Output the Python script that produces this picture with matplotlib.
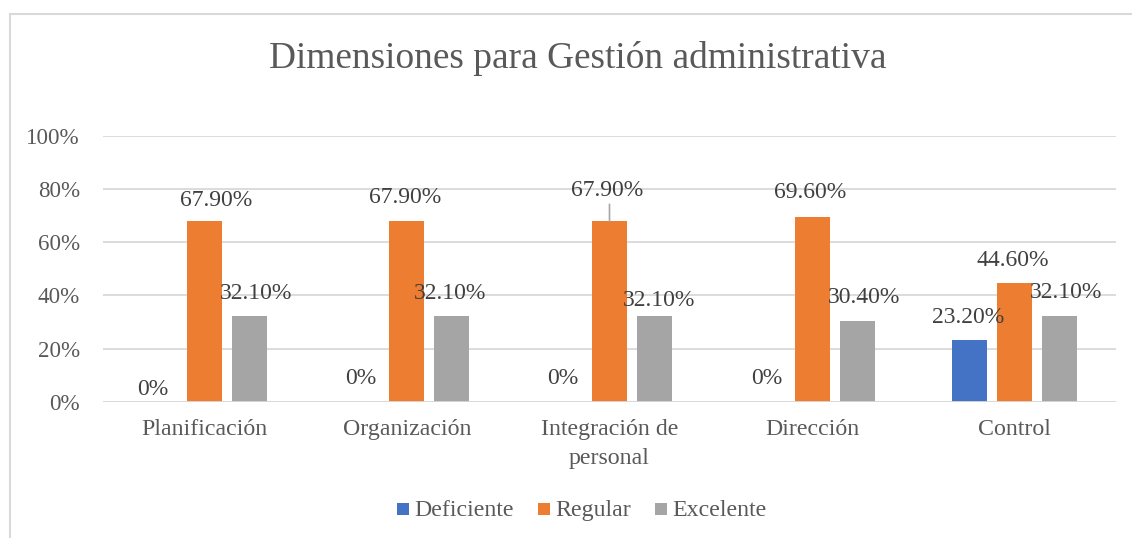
import matplotlib
matplotlib.use("Agg")
import matplotlib.pyplot as plt
from matplotlib.patches import Rectangle
import numpy as np

categories = ["Planificación", "Organización", "Integración de\npersonal", "Dirección", "Control"]
series_names = ["Deficiente", "Regular", "Excelente"]
deficiente = [0.0, 0.0, 0.0, 0.0, 0.232]
regular = [0.679, 0.679, 0.679, 0.696, 0.446]
excelente = [0.321, 0.321, 0.321, 0.304, 0.321]
label_deficiente = ["0%", "0%", "0%", "0%", "23.20%"]
label_regular = ["67.90%", "67.90%", "67.90%", "69.60%", "44.60%"]
label_excelente = ["32.10%", "32.10%", "32.10%", "30.40%", "32.10%"]
yticks = [0, 0.2, 0.4, 0.6, 0.8, 1.0]
ytick_labels = ["0%", "20%", "40%", "60%", "80%", "100%"]
title = "Dimensiones para Gestión administrativa"

colors = ["#4472C4", "#ED7D31", "#A5A5A5"]
text_color = "#595959"
grid_color = "#D9D9D9"
font = "Liberation Serif"

# label offsets in pixels (dx, dy of text center from bar-top center)
offsets = [
    [(-7, 12), (11.5, 21), (6.5, 23)],
    [(-1.5, 23.5), (-1.5, 23.5), (-1.5, 23)],
    [(-1.5, 23.5), (-2.5, 31), (4.5, 16)],
    [(-0.5, 23.5), (-1.5, 24), (6.5, 23)],
    [(-2, 23), (-2, 22.4), (6.5, 23.6)],
]

W, H, DPI = 1132, 538, 100
fig = plt.figure(figsize=(W / DPI, H / DPI), dpi=DPI)
ax = fig.add_axes([103 / W, (H - 401.7) / H, (1116 - 103) / W, (401.7 - 136) / H])

x = np.arange(len(categories))
bw = 35 / 202.6
step = 45 / 202.6
all_series = [deficiente, regular, excelente]
all_labels = [label_deficiente, label_regular, label_excelente]

for s, (vals, labs) in enumerate(zip(all_series, all_labels)):
    xs = x + (s - 1) * step
    ax.bar(xs, vals, width=bw, color=colors[s], label=series_names[s], zorder=3)
    for i in range(len(categories)):
        dx, dy = offsets[i][s]
        ax.annotate(labs[i], xy=(xs[i], vals[i]), xytext=(dx, dy),
                    textcoords="offset pixels", ha="center", va="center",
                    fontsize=17, family=font, color="#404040", zorder=5)

# leader line for Integración Regular label
ax.annotate("", xy=(x[2], regular[2]), xytext=(0, 17), textcoords="offset pixels",
            arrowprops=dict(arrowstyle="-", color="#A6A6A6", lw=1.2, shrinkA=0, shrinkB=0))

ax.set_xlim(-0.5, len(categories) - 0.5)
ax.set_ylim(0, 1.0)
ax.set_yticks(yticks)
ax.set_yticklabels(ytick_labels, family=font, fontsize=16.6, color=text_color)
ax.set_xticks(x)
ax.set_xticklabels(categories, family=font, fontsize=17.2, color=text_color, linespacing=1.5)
ax.tick_params(axis="both", length=0)
ax.tick_params(axis="y", pad=16.5)
ax.tick_params(axis="x", pad=12.5)
ax.grid(axis="y", color=grid_color, lw=1.3, zorder=0)
for sp in ax.spines.values():
    sp.set_visible(False)
ax.axhline(0, color=grid_color, lw=1.3, zorder=4)

fig.text(578 / W, 1 - 58 / H, title, ha="center", va="center", family=font,
         fontsize=26.9, color=text_color)

# legend (manual, baseline-aligned like the original)
legend_marker_x = [397, 538, 655]
for name, col, mx in zip(series_names, colors, legend_marker_x):
    fig.add_artist(Rectangle((mx / W, 1 - 515 / H), 12 / W, 12 / H,
                             transform=fig.transFigure, color=col, lw=0))
    fig.text((mx + 17) / W, 1 - 516 / H, name, ha="left", va="baseline",
             family=font, fontsize=17.2, color=text_color)

# outer chart border (only top and left visible)
fig.add_artist(plt.Line2D([9.5 / W, 9.5 / W], [0, 1 - 14 / H], transform=fig.transFigure,
                          color=grid_color, lw=1.5))
fig.add_artist(plt.Line2D([9.5 / W, 1], [1 - 14 / H, 1 - 14 / H], transform=fig.transFigure,
                          color=grid_color, lw=1.5))

fig.savefig("out.png", dpi=DPI)
